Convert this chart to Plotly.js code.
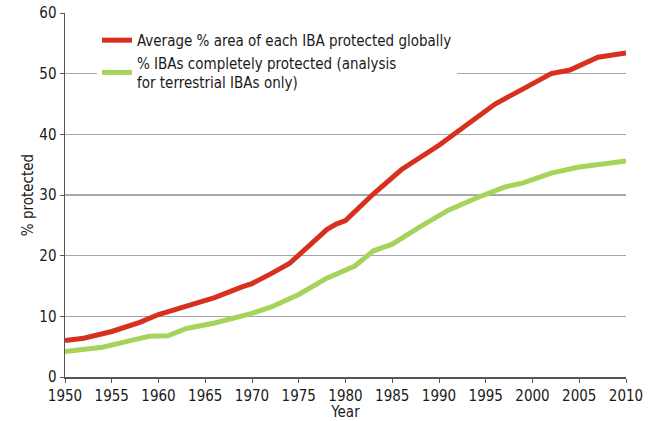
<!DOCTYPE html>
<html>
<head>
<meta charset="utf-8">
<script src="https://cdn.plot.ly/plotly-3.0.1.min.js"></script>
<style>html,body{margin:0;padding:0;background:#fff;}#chart{width:654px;height:421px;}</style>
</head>
<body>
<div id="chart"></div>
<script>
const redYears = [1950, 1952, 1955, 1958, 1960, 1963, 1966, 1969, 1970, 1972, 1974, 1976, 1978, 1979, 1980, 1983, 1986, 1990, 1993, 1996, 1999, 2002, 2004, 2007, 2010];
const redValues = [6.0, 6.4, 7.5, 9.0, 10.3, 11.8, 13.1, 14.9, 15.4, 17.0, 18.7, 21.5, 24.3, 25.2, 25.8, 30.2, 34.2, 38.2, 41.6, 45.0, 47.5, 50.0, 50.6, 52.7, 53.4];
const greenYears = [1950, 1954, 1957, 1959, 1961, 1963, 1966, 1968, 1970, 1972, 1975, 1978, 1981, 1983, 1985, 1988, 1991, 1994, 1997, 1999, 2002, 2005, 2007, 2010];
const greenValues = [4.2, 4.9, 6.0, 6.7, 6.8, 8.0, 8.9, 9.6, 10.5, 11.5, 13.6, 16.3, 18.3, 20.8, 21.9, 24.8, 27.5, 29.5, 31.3, 32.0, 33.6, 34.6, 35.0, 35.6];
const seriesNames = ["Average % area of each IBA protected globally", "% IBAs completely protected (analysis<br>for terrestrial IBAs only)"];
const xTicks = [1950, 1955, 1960, 1965, 1970, 1975, 1980, 1985, 1990, 1995, 2000, 2005, 2010];
const yTicks = [0, 10, 20, 30, 40, 50, 60];

const FONT = '"DejaVu Sans Condensed", "Liberation Sans Narrow", sans-serif';

const traces = [
  {x: redYears, y: redValues, name: seriesNames[0], mode: 'lines', line: {color: '#d7301f', width: 5}},
  {x: greenYears, y: greenValues, name: seriesNames[1], mode: 'lines', line: {color: '#a6d35a', width: 5}}
];

const layout = {
  width: 654, height: 421,
  margin: {l: 65, r: 28, t: 13, b: 44},
  paper_bgcolor: '#fff', plot_bgcolor: '#fff',
  font: {family: FONT, size: 15, color: '#1a1a1a'},
  showlegend: true,
  legend: {x: 0.057, y: 0.97, xanchor: 'left', yanchor: 'top', bgcolor: '#fff',
           font: {family: FONT, size: 15, color: '#1a1a1a'}, tracegroupgap: 0, itemwidth: 30},
  xaxis: {
    range: [1950, 2010], tickvals: xTicks, ticktext: xTicks.map(String),
    showgrid: false, zeroline: false, showline: true, linecolor: '#555', linewidth: 1.5,
    ticks: 'outside', ticklen: 4, tickcolor: '#555', tickwidth: 1,
    tickfont: {family: FONT, size: 15, color: '#1a1a1a'},
    title: {text: 'Year', standoff: 3, font: {family: FONT, size: 15, color: '#1a1a1a'}},
    fixedrange: true
  },
  yaxis: {
    range: [0, 60], tickvals: yTicks, ticktext: yTicks.map(String),
    showgrid: true, gridcolor: '#a8a8a8', gridwidth: 1.5,
    zeroline: false, showline: true, linecolor: '#555', linewidth: 1.5,
    ticks: 'outside', ticklen: 4, tickcolor: '#555', tickwidth: 1,
    tickfont: {family: FONT, size: 15, color: '#1a1a1a'},
    title: {text: '% protected', standoff: 2, font: {family: FONT, size: 15, color: '#1a1a1a'}},
    fixedrange: true
  }
};

Plotly.newPlot('chart', traces, layout, {displayModeBar: false, staticPlot: true});
</script>
</body>
</html>
